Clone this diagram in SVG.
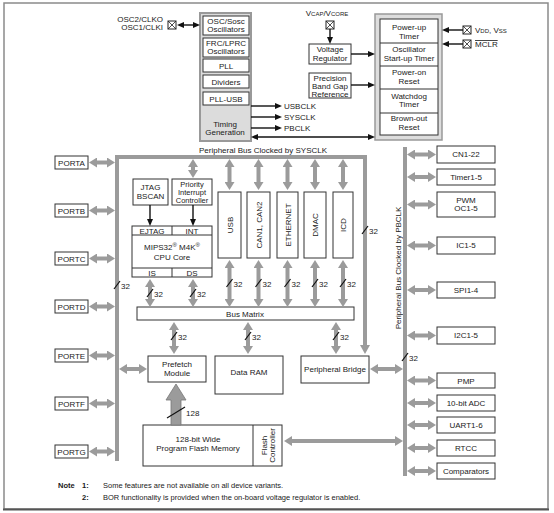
<svg xmlns="http://www.w3.org/2000/svg" width="554" height="513" viewBox="0 0 554 513">
<style>
text{font-family:"Liberation Sans",Arial,sans-serif;font-size:8px;fill:#1a1a1a;text-anchor:middle}
.box{fill:#fff;stroke:#333;stroke-width:1}
.ga{stroke:#9b9b9b;stroke-width:4;fill:none;marker-start:url(#gh);marker-end:url(#gh)}
.ge{stroke:#9b9b9b;stroke-width:4;fill:none;marker-end:url(#gh)}
.bk{stroke:#111;stroke-width:1.4;fill:none;marker-end:url(#bh)}
.bd{stroke:#111;stroke-width:1.4;fill:none;marker-start:url(#bh);marker-end:url(#bh)}
.sl{stroke:#111;stroke-width:1.2}
.bus{stroke:#9b9b9b;stroke-width:4;fill:none}
.pin{fill:#fff;stroke:#222;stroke-width:1}
.l{text-anchor:start}
.r{text-anchor:end}
.sm{font-size:6px}
.b{font-weight:bold}
</style>
<defs>
<marker id="gh" viewBox="0 0 8 10" refX="0" refY="5" markerWidth="8" markerHeight="10" markerUnits="userSpaceOnUse" orient="auto-start-reverse"><path d="M0,0 L8,5 L0,10 z" fill="#9b9b9b"/></marker>
<marker id="bh" viewBox="0 0 7 6" refX="0" refY="3" markerWidth="7" markerHeight="6" markerUnits="userSpaceOnUse" orient="auto-start-reverse"><path d="M0,0 L7,3 L0,6 z" fill="#111"/></marker>
</defs>
<rect x="0" y="0" width="554" height="513" fill="#fff"/>
<rect x="4" y="3" width="544" height="506" fill="none" stroke="#8a8a8a" stroke-width="1.5"/>
<line x1="3" y1="509.5" x2="549" y2="509.5" stroke="#555" stroke-width="2"/>

<!-- clock block -->
<g id="clock">
<rect x="200" y="13" width="51" height="128" fill="#dcdcdc" stroke="#999" stroke-width="2"/>
<rect class="box" x="203" y="16" width="46" height="19"/><text x="226" y="24">OSC/Sosc</text><text x="226" y="32">Oscillators</text>
<rect class="box" x="203" y="38" width="46" height="19"/><text x="226" y="46">FRC/LPRC</text><text x="226" y="54">Oscillators</text>
<rect class="box" x="203" y="59" width="46" height="13"/><text x="226" y="68.5">PLL</text>
<rect class="box" x="203" y="75" width="46" height="13"/><text x="226" y="84.5">Dividers</text>
<rect class="box" x="203" y="92" width="46" height="13"/><text x="226" y="101.5">PLL-USB</text>
<text x="225" y="127">Timing</text><text x="225" y="135">Generation</text>
</g>
<g id="osc-pin">
<text class="r" x="163" y="22">OSC2/CLKO</text><text class="r" x="163" y="30">OSC1/CLKI</text>
<rect class="pin" x="168" y="21" width="8" height="8"/><path d="M168,21 L176,29 M176,21 L168,29" stroke="#222" stroke-width="0.8"/>
</g>
<g id="clk-labels">
<text class="l" x="284" y="109">USBCLK</text>
<text class="l" x="284" y="120">SYSCLK</text>
<text class="l" x="284" y="131">PBCLK</text>
</g>

<!-- reset block -->
<g id="reset">
<rect x="375" y="14" width="67" height="126" fill="#ddd" stroke="#999" stroke-width="1.5"/>
<rect class="box" x="380" y="19" width="58" height="116"/>
<path d="M380,43 H438 M380,66 H438 M380,89 H438 M380,113 H438" stroke="#333" stroke-width="1"/>
<text x="409" y="30">Power-up</text><text x="409" y="39">Timer</text>
<text x="409" y="52">Oscillator</text><text x="409" y="61">Start-up Timer</text>
<text x="409" y="75">Power-on</text><text x="409" y="84">Reset</text>
<text x="409" y="99">Watchdog</text><text x="409" y="107">Timer</text>
<text x="409" y="121">Brown-out</text><text x="409" y="130">Reset</text>
</g>
<g id="vcap">
<text x="327" y="16">V<tspan class="sm">CAP</tspan>/V<tspan class="sm">CORE</tspan></text>
<rect class="pin" x="326" y="21" width="8" height="8"/><path d="M326,21 L334,29 M334,21 L326,29" stroke="#222" stroke-width="0.8"/>
</g>
<g id="vreg"><rect class="box" x="309" y="44" width="42" height="20"/><text x="330" y="52">Voltage</text><text x="330" y="61">Regulator</text></g>
<g id="bandgap"><rect class="box" x="309" y="73" width="42" height="25"/><text x="330" y="80.5">Precision</text><text x="330" y="88.5">Band Gap</text><text x="330" y="96.5">Reference</text></g>
<g id="vdd">
<rect class="pin" x="463" y="26" width="8" height="8"/><path d="M463,26 L471,34 M471,26 L463,34" stroke="#222" stroke-width="0.8"/>
<text class="l" x="475" y="33">V<tspan class="sm">DD</tspan>, V<tspan class="sm">SS</tspan></text>
</g>
<g id="mclr">
<rect class="pin" x="463" y="40" width="8" height="8"/><path d="M463,40 L471,48 M471,40 L463,48" stroke="#222" stroke-width="0.8"/>
<text class="l" x="475" y="47" text-decoration="overline">MCLR</text>
</g>

<text x="263" y="153">Peripheral Bus Clocked by SYSCLK</text>

<!-- ports -->
<g id="porta"><rect class="box" x="55" y="156" width="33" height="13"/><text x="71.5" y="165.5">PORTA</text></g>
<g id="portb"><rect class="box" x="55" y="204" width="33" height="13"/><text x="71.5" y="213.5">PORTB</text></g>
<g id="portc"><rect class="box" x="55" y="252" width="33" height="13"/><text x="71.5" y="261.5">PORTC</text></g>
<g id="portd"><rect class="box" x="55" y="300" width="33" height="13"/><text x="71.5" y="309.5">PORTD</text></g>
<g id="porte"><rect class="box" x="55" y="349" width="33" height="13"/><text x="71.5" y="358.5">PORTE</text></g>
<g id="portf"><rect class="box" x="55" y="397" width="33" height="13"/><text x="71.5" y="406.5">PORTF</text></g>
<g id="portg"><rect class="box" x="55" y="445" width="33" height="13"/><text x="71.5" y="454.5">PORTG</text></g>

<!-- CPU area -->
<g id="jtag"><rect class="box" x="133" y="179" width="35" height="26"/><text x="150.5" y="190">JTAG</text><text x="150.5" y="199">BSCAN</text></g>
<g id="pic"><rect class="box" x="172" y="179" width="40" height="26"/><text x="192" y="187" style="font-size:7.5px">Priority</text><text x="192" y="195" style="font-size:7.5px">Interrupt</text><text x="192" y="203" style="font-size:7.5px">Controller</text></g>
<g id="cpu">
<rect class="box" x="132" y="226" width="80" height="51"/>
<path d="M132,235 H212 M132,268 H212 M172,226 V235 M172,268 V277" stroke="#333" stroke-width="1"/>
<text x="152" y="233.5">EJTAG</text><text x="192" y="233.5">INT</text>
<text x="172" y="250">MIPS32<tspan class="sm" dy="-3">®</tspan><tspan dy="3"> M4K</tspan><tspan class="sm" dy="-3">®</tspan></text>
<text x="172" y="260">CPU Core</text>
<text x="152" y="275.5">IS</text><text x="192" y="275.5">DS</text>
</g>

<!-- peripherals on SYSCLK bus -->
<g id="usb"><rect class="box" x="218" y="192" width="23" height="66"/><text transform="translate(229.5,225) rotate(-90)" y="3">USB</text></g>
<g id="can"><rect class="box" x="247" y="192" width="23" height="66"/><text transform="translate(258.5,225) rotate(-90)" y="3">CAN1, CAN2</text></g>
<g id="ethernet"><rect class="box" x="277" y="192" width="21" height="66"/><text transform="translate(287.5,225) rotate(-90)" y="3">ETHERNET</text></g>
<g id="dmac"><rect class="box" x="304" y="192" width="22" height="66"/><text transform="translate(315,225) rotate(-90)" y="3">DMAC</text></g>
<g id="icd"><rect class="box" x="333" y="192" width="20" height="66"/><text transform="translate(343,225) rotate(-90)" y="3">ICD</text></g>

<g id="busmatrix"><rect class="box" x="137" y="307" width="217" height="13"/><text x="245" y="316.5">Bus Matrix</text></g>
<g id="prefetch"><rect class="box" x="148" y="356" width="58" height="26"/><text x="177" y="366.5">Prefetch</text><text x="177" y="375.5">Module</text></g>
<g id="dataram"><rect class="box" x="215" y="356" width="68" height="38"/><text x="249" y="375">Data RAM</text></g>
<g id="pbridge"><rect class="box" x="301" y="356" width="68" height="27"/><text x="335" y="372">Peripheral Bridge</text></g>
<g id="flash">
<rect class="box" x="143" y="425" width="139" height="41"/>
<line x1="253" y1="425" x2="253" y2="466" stroke="#333" stroke-width="1"/>
<text x="198" y="442">128-bit Wide</text><text x="198" y="451">Program Flash Memory</text>
<g transform="translate(268,445.5) rotate(-90)"><text y="-1">Flash</text><text y="7">Controller</text></g>
</g>

<!-- right peripherals -->
<g id="cn"><rect class="box" x="437" y="146" width="58" height="17"/><text x="466" y="157">CN1-22</text></g>
<g id="timer"><rect class="box" x="437" y="169" width="58" height="16"/><text x="466" y="180">Timer1-5</text></g>
<g id="pwm"><rect class="box" x="437" y="192" width="58" height="25"/><text x="466" y="203">PWM</text><text x="466" y="211">OC1-5</text></g>
<g id="ic"><rect class="box" x="437" y="237" width="58" height="17"/><text x="466" y="248">IC1-5</text></g>
<g id="spi"><rect class="box" x="437" y="282" width="58" height="16"/><text x="466" y="293">SPI1-4</text></g>
<g id="i2c"><rect class="box" x="437" y="327" width="58" height="17"/><text x="466" y="338">I2C1-5</text></g>
<g id="pmp"><rect class="box" x="437" y="373" width="58" height="15"/><text x="466" y="383.5">PMP</text></g>
<g id="adc"><rect class="box" x="437" y="395" width="58" height="16"/><text x="466" y="406">10-bit ADC</text></g>
<g id="uart"><rect class="box" x="437" y="417" width="58" height="16"/><text x="466" y="428">UART1-6</text></g>
<g id="rtcc"><rect class="box" x="437" y="440" width="58" height="16"/><text x="466" y="451">RTCC</text></g>
<g id="comp"><rect class="box" x="437" y="463" width="58" height="16"/><text x="466" y="474">Comparators</text></g>

<text transform="translate(401,268) rotate(-90)">Peripheral Bus Clocked by PBCLK</text>

<!-- connectors -->
<g id="connectors">
<!-- buses -->
<path class="bus" d="M117,461 V157 H365 V345"/>
<path d="M360,345 L370,345 L365,354 z" fill="#9b9b9b"/>
<line class="bus" x1="405" y1="147" x2="405" y2="476"/>
<!-- black clock/reset arrows -->
<line class="bd" x1="184" y1="25" x2="193" y2="25"/>
<line class="bk" x1="251" y1="106" x2="275" y2="106"/>
<line class="bk" x1="251" y1="117" x2="275" y2="117"/>
<line class="bk" x1="251" y1="128" x2="275" y2="128"/>
<line class="bd" x1="258" y1="137" x2="368" y2="137"/>
<line class="bk" x1="330" y1="29" x2="330" y2="37"/>
<line class="bk" x1="351" y1="54" x2="368" y2="54"/>
<line class="bk" x1="351" y1="85" x2="368" y2="85"/>
<line class="bk" x1="463" y1="30" x2="449" y2="30"/>
<line class="bk" x1="463" y1="44" x2="449" y2="44"/>
<line class="bk" x1="150" y1="205" x2="150" y2="219"/>
<line class="bk" x1="193" y1="205" x2="193" y2="219"/>
<!-- port arrows -->
<line class="ga" x1="97" y1="162.5" x2="107" y2="162.5"/>
<line class="ga" x1="97" y1="210.5" x2="107" y2="210.5"/>
<line class="ga" x1="97" y1="258.5" x2="107" y2="258.5"/>
<line class="ga" x1="97" y1="306.5" x2="107" y2="306.5"/>
<line class="ga" x1="97" y1="355.5" x2="107" y2="355.5"/>
<line class="ga" x1="97" y1="403.5" x2="107" y2="403.5"/>
<line class="ga" x1="97" y1="451.5" x2="107" y2="451.5"/>
<!-- SYSCLK bus to modules -->
<line class="ga" x1="193" y1="167" x2="193" y2="170"/>
<line class="ga" x1="229.5" y1="167" x2="229.5" y2="182"/>
<line class="ga" x1="258.5" y1="167" x2="258.5" y2="182"/>
<line class="ga" x1="287.5" y1="167" x2="287.5" y2="182"/>
<line class="ga" x1="315" y1="167" x2="315" y2="182"/>
<line class="ga" x1="343" y1="167" x2="343" y2="182"/>
<!-- modules to bus matrix -->
<line class="ga" x1="150" y1="287" x2="150" y2="299"/>
<line class="ga" x1="193" y1="287" x2="193" y2="299"/>
<line class="ga" x1="229.5" y1="268" x2="229.5" y2="299"/>
<line class="ga" x1="258.5" y1="268" x2="258.5" y2="299"/>
<line class="ga" x1="287.5" y1="268" x2="287.5" y2="299"/>
<line class="ga" x1="315" y1="268" x2="315" y2="299"/>
<line class="ga" x1="343" y1="268" x2="343" y2="299"/>
<!-- bus matrix down -->
<line class="ga" x1="174" y1="330" x2="174" y2="346"/>
<line class="ga" x1="248" y1="330" x2="248" y2="346"/>
<line class="ga" x1="336" y1="330" x2="336" y2="346"/>
<!-- horizontal -->
<line class="ga" x1="127" y1="369" x2="139" y2="369"/>
<line class="ga" x1="378" y1="369" x2="395" y2="369"/>
<line class="ga" x1="292" y1="441" x2="395" y2="441"/>
<!-- 128 arrow -->
<path d="M171,425 V400 H166 L176,384 L186,400 H181 V425 z" fill="#9b9b9b" stroke="#777" stroke-width="0.8"/>
<!-- PB peripherals -->
<line class="ga" x1="415" y1="154.5" x2="428" y2="154.5"/>
<line class="ga" x1="415" y1="177" x2="428" y2="177"/>
<line class="ga" x1="415" y1="204.5" x2="428" y2="204.5"/>
<line class="ga" x1="415" y1="245.5" x2="428" y2="245.5"/>
<line class="ga" x1="415" y1="290" x2="428" y2="290"/>
<line class="ga" x1="415" y1="335.5" x2="428" y2="335.5"/>
<line class="ga" x1="415" y1="380.5" x2="428" y2="380.5"/>
<line class="ga" x1="415" y1="403" x2="428" y2="403"/>
<line class="ga" x1="415" y1="425" x2="428" y2="425"/>
<line class="ga" x1="415" y1="448" x2="428" y2="448"/>
<line class="ga" x1="415" y1="471" x2="428" y2="471"/>
</g>

<!-- bus width labels -->
<g id="widths">
<line class="sl" x1="114" y1="289" x2="120" y2="281"/><text class="l" x="121" y="289">32</text>
<line class="sl" x1="362" y1="234" x2="368" y2="226"/><text class="l" x="369" y="234">32</text>
<line class="sl" x1="147" y1="297" x2="153" y2="289"/><text class="l" x="154" y="297">32</text>
<line class="sl" x1="190" y1="297" x2="196" y2="289"/><text class="l" x="197" y="297">32</text>
<line class="sl" x1="226.5" y1="287" x2="232.5" y2="279"/><text class="l" x="233.5" y="287">32</text>
<line class="sl" x1="255.5" y1="287" x2="261.5" y2="279"/><text class="l" x="262.5" y="287">32</text>
<line class="sl" x1="284.5" y1="287" x2="290.5" y2="279"/><text class="l" x="291.5" y="287">32</text>
<line class="sl" x1="312" y1="287" x2="318" y2="279"/><text class="l" x="319" y="287">32</text>
<line class="sl" x1="340" y1="287" x2="346" y2="279"/><text class="l" x="347" y="287">32</text>
<line class="sl" x1="171" y1="340" x2="177" y2="332"/><text class="l" x="178" y="340">32</text>
<line class="sl" x1="245" y1="340" x2="251" y2="332"/><text class="l" x="252" y="340">32</text>
<line class="sl" x1="333" y1="340" x2="339" y2="332"/><text class="l" x="340" y="340">32</text>
<line class="sl" x1="402" y1="361" x2="408" y2="353"/><text class="l" x="409" y="361">32</text>
<line class="sl" x1="167" y1="418" x2="185" y2="407"/><text class="l" x="186" y="416">128</text>
</g>

<g id="notes">
<text class="l b" x="58" y="488" style="font-size:7.5px">Note</text>
<text class="l b" x="82" y="488" style="font-size:7.5px">1:</text>
<text class="l" x="103" y="488" style="font-size:7.5px">Some features are not available on all device variants.</text>
<text class="l b" x="82" y="500" style="font-size:7.5px">2:</text>
<text class="l" x="103" y="500" style="font-size:7.5px">BOR functionality is provided when the on-board voltage regulator is enabled.</text>
</g>
</svg>
